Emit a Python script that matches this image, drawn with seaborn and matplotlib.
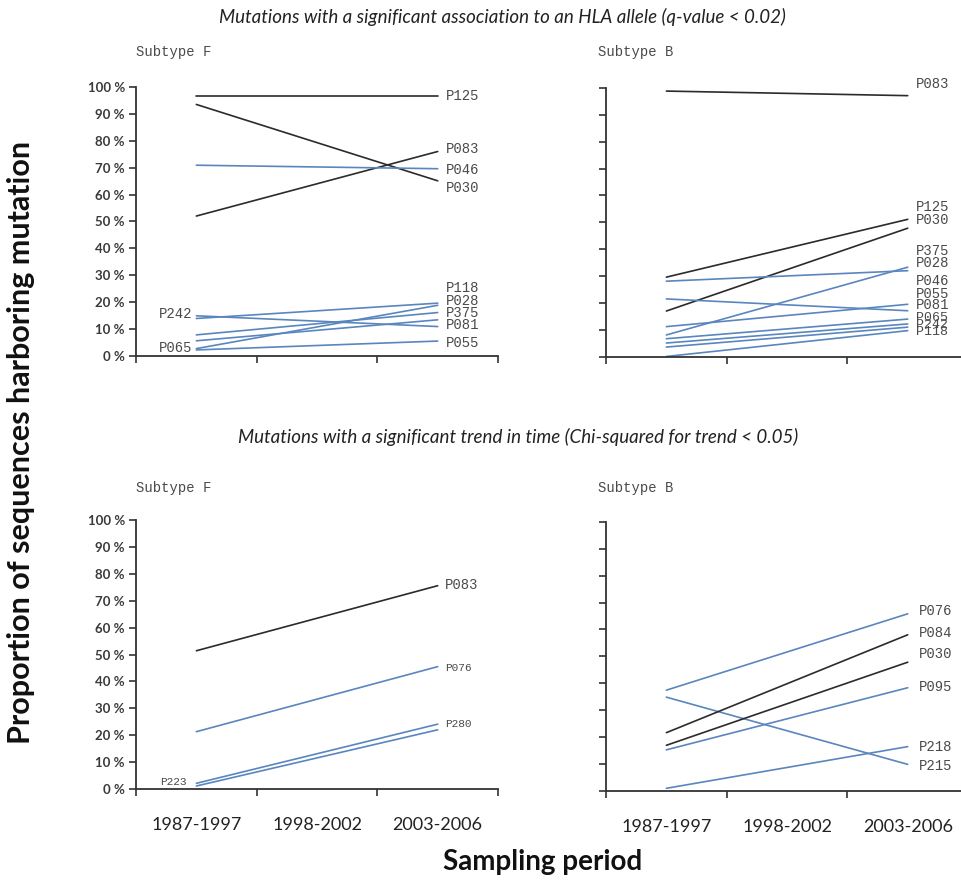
import numpy as np
import pandas as pd
import matplotlib
matplotlib.use('Agg')
import matplotlib.pyplot as plt
import seaborn as sns

# sampling periods (x categories)
periods = ['1987-1997', '1998-2002', '2003-2006']

# HLA-associated mutations, subtype F
hla_F_names = ['P125', 'P030', 'P083', 'P046', 'P242', 'P118', 'P375', 'P081', 'P028', 'P055']
hla_F_early = [96.8, 93.5, 52.0, 70.9, 14.9, 13.9, 7.8, 5.6, 2.7, 2.2]
hla_F_late = [96.8, 65.1, 76.0, 69.6, 10.9, 19.6, 16.1, 13.4, 18.8, 5.5]
hla_F_black = ['P125', 'P030', 'P083']

# HLA-associated mutations, subtype B
hla_B_names = ['P083', 'P125', 'P030', 'P375', 'P028', 'P046', 'P055', 'P081', 'P065', 'P242', 'P118']
hla_B_early = [98.8, 29.6, 17.0, 8.1, 28.1, 11.2, 21.5, 6.7, 5.1, 3.6, 0.1]
hla_B_late = [97.1, 51.1, 47.8, 33.3, 32.0, 19.5, 17.1, 14.0, 12.2, 11.0, 9.7]
hla_B_black = ['P083', 'P125', 'P030']

# mutations with a trend in time, subtype F
trend_F_names = ['P083', 'P076', 'P280', 'P223']
trend_F_early = [51.4, 21.3, 2.1, 1.1]
trend_F_late = [75.6, 45.5, 24.1, 22.0]
trend_F_black = ['P083']

# mutations with a trend in time, subtype B
trend_B_names = ['P076', 'P215', 'P084', 'P030', 'P095', 'P218']
trend_B_early = [37.4, 34.8, 21.6, 16.9, 15.2, 0.9]
trend_B_late = [65.8, 9.8, 58.0, 47.8, 38.3, 16.4]
trend_B_black = ['P084', 'P030']

# label placement (name, y[, size]) -- labels are spread out like in the original
hla_F_right = [('P125', 96.7), ('P083', 76.8), ('P046', 69.1), ('P030', 62.3), ('P118', 25.4),
               ('P028', 20.3), ('P375', 16.0), ('P081', 11.4), ('P055', 4.6)]
hla_F_left = [('P242', 15.5), ('P065', 3.1)]
hla_B_right = [('P083', 101.6), ('P125', 55.7), ('P030', 50.9), ('P375', 39.5), ('P028', 35.0),
               ('P046', 28.3), ('P055', 23.4), ('P081', 19.3), ('P065', 14.5, 9.5),
               ('P242', 11.8, 9.5), ('P118', 9.1, 9.5)]
trend_F_right = [('P083', 75.9, 10), ('P076', 44.9, 8), ('P280', 24.2, 8)]
trend_F_left = [('P223', 2.7, 8)]
trend_B_right = [('P076', 67.0), ('P084', 58.6), ('P030', 50.8), ('P095', 38.4),
                 ('P218', 16.4), ('P215', 9.2)]

BLUE = '#5a86bf'
BLACK = '#2b2b2b'
LABEL_C = '#4a4a4a'
MONO = ['Liberation Mono', 'DejaVu Sans Mono']

sns.set_theme(style='white')
plt.rcParams['font.family'] = ['Lato', 'DejaVu Sans']


def make_frame(names, early, late):
    rows = []
    for n, a, b in zip(names, early, late):
        rows.append({'mutation': n, 'period': periods.index('1987-1997'), 'value': a})
        rows.append({'mutation': n, 'period': periods.index('2003-2006'), 'value': b})
    return pd.DataFrame(rows)


def draw_panel(ax, names, early, late, black, show_y, show_x):
    df = make_frame(names, early, late)
    pal = {n: (BLACK if n in black else BLUE) for n in names}
    sns.lineplot(data=df, x='period', y='value', hue='mutation', palette=pal,
                 legend=False, ax=ax, linewidth=1.2, sort=False)
    for ln in ax.get_lines():
        ln.set_clip_on(False)
    ax.set_xlim(-0.5, 2.5)
    ax.set_ylim(0, 100)
    ax.set_xlabel('')
    ax.set_ylabel('')
    ax.set_xticks([-0.5, 0.5, 1.5, 2.5])
    ax.set_xticklabels([])
    ax.set_xticks([0, 1, 2], minor=True)
    if show_x:
        ax.set_xticklabels(periods, minor=True, fontsize=13, color='#222222')
    ax.tick_params(axis='x', which='minor', bottom=True, length=0, pad=20)
    ax.tick_params(axis='x', which='major', bottom=True, length=5, width=1.2,
                   color='#333333', direction='out')
    ax.set_yticks(np.arange(0, 101, 10))
    if show_y:
        ax.set_yticklabels([f'{v} %' for v in range(0, 101, 10)], fontsize=9.5,
                           fontweight='bold', color='#3a3a3a')
    else:
        ax.set_yticklabels([])
    ax.tick_params(axis='y', left=True, length=5, width=1.2, color='#333333',
                   direction='out', pad=3)
    for s in ['top', 'right']:
        ax.spines[s].set_visible(False)
    for s in ['left', 'bottom']:
        ax.spines[s].set_color('#333333')
        ax.spines[s].set_linewidth(1.3)


def put_labels(ax, labels, x, ha, size=10):
    for item in labels:
        name, y = item[0], item[1]
        fs = item[2] if len(item) > 2 else size
        ax.text(x, y, name, ha=ha, va='center', fontsize=fs, color=LABEL_C, family=MONO)


fig = plt.figure(figsize=(9.62, 8.83), dpi=100)
W, H = 0.3763, 0.3045
ax1 = fig.add_axes([0.1414, 0.597, W, H])
ax2 = fig.add_axes([0.630, 0.596, W, H])
ax3 = fig.add_axes([0.1414, 0.1065, W, H])
ax4 = fig.add_axes([0.630, 0.1045, W, H])

draw_panel(ax1, hla_F_names, hla_F_early, hla_F_late, hla_F_black, True, False)
draw_panel(ax2, hla_B_names, hla_B_early, hla_B_late, hla_B_black, False, False)
draw_panel(ax3, trend_F_names, trend_F_early, trend_F_late, trend_F_black, True, True)
draw_panel(ax4, trend_B_names, trend_B_early, trend_B_late, trend_B_black, False, True)

put_labels(ax1, hla_F_right, 2.07, 'left')
put_labels(ax1, hla_F_left, -0.03, 'right')
put_labels(ax2, hla_B_right, 2.07, 'left')
put_labels(ax3, trend_F_right, 2.06, 'left')
put_labels(ax3, trend_F_left, -0.08, 'right')
put_labels(ax4, trend_B_right, 2.09, 'left')

fig.text(502 / 962, 1 - 17 / 883,
         'Mutations with a significant association to an HLA allele (q-value < 0.02)',
         ha='center', va='center', style='italic', fontsize=13.5, color='#222222')
fig.text(518 / 962, 1 - 437 / 883,
         'Mutations with a significant trend in time (Chi-squared for trend < 0.05)',
         ha='center', va='center', style='italic', fontsize=13.5, color='#222222')
for x, y, t in [(136, 52, 'Subtype F'), (598, 52, 'Subtype B'),
                (136, 488, 'Subtype F'), (598, 488, 'Subtype B')]:
    fig.text(x / 962, 1 - y / 883, t, ha='left', va='center', fontsize=10,
             color=LABEL_C, family=MONO)

fig.text(21 / 962, 1 - 442 / 883, 'Proportion of sequences harboring mutation',
         rotation=90, ha='center', va='center', fontsize=22, fontweight='bold', color='#111111')
fig.text(543 / 962, 1 - 862 / 883, 'Sampling period', ha='center', va='center',
         fontsize=20, fontweight='bold', color='#111111')

fig.savefig('out.png', dpi=100)
